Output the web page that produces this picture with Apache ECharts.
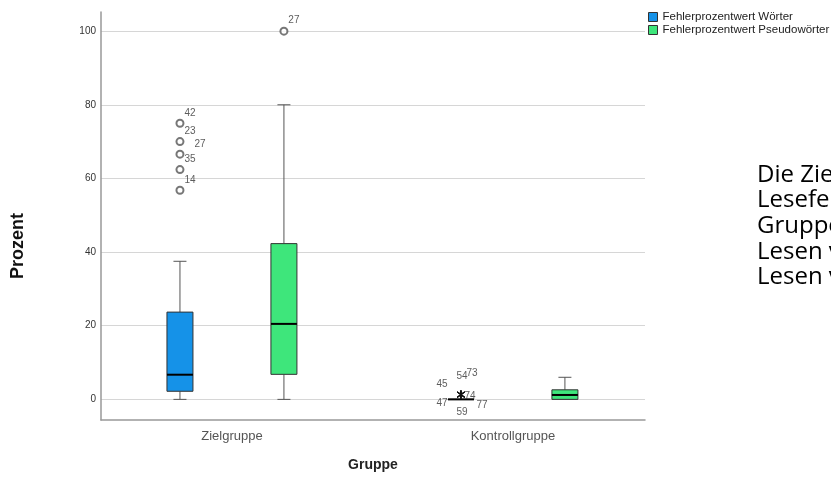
<!DOCTYPE html>
<html><head><meta charset="utf-8">
<script src="https://cdn.jsdelivr.net/npm/echarts@6/dist/echarts.min.js"></script>
<style>html,body{margin:0;padding:0;background:#fff;}#c{width:831px;height:477px;}</style>
</head><body><div id="c"></div>
<script>
// ---- data ----
const groups = ['Zielgruppe', 'Kontrollgruppe'];
const seriesNames = ['Fehlerprozentwert Wörter', 'Fehlerprozentwert Pseudowörter'];
// [min, Q1, median, Q3, max] per group
const woerterBox = [[0, 2.2, 6.7, 23.7, 37.5], [0, 0, 0, 0, 0]];
const pseudoBox = [[0, 6.8, 20.5, 42.3, 80], [0, 0, 1.2, 2.6, 6.0]];
// outliers (circles): [value, case number]
const woerterOutliers = [[[75, 42], [70, 23], [66.6, 27], [62.4, 35], [56.8, 14]], []];
const pseudoOutliers = [[[100, 27]], []];
// extreme values (asterisks): [value, case number]
const woerterExtremes = [[], [[1.3, 45], [1.3, 54], [1.3, 73], [1.3, 47], [1.3, 59], [1.3, 77], [1.3, 74]]];
const pseudoExtremes = [[], []];
const yTicks = [0, 20, 40, 60, 80, 100];
const sideText = ['Die Zielgruppe', 'Lesefehler', 'Gruppe', 'Lesen von', 'Lesen von'];

// ---- layout / style ----
const groupPos = [1, 2];
const seriesOffset = [-0.185, 0.185];
const colors = ['#1592e8', '#3ee67b'];
const labelOffsets = {
  '0-0-27': [20, -10],
  '0-1-45': [-19, -10], '0-1-54': [1, -18], '0-1-73': [11, -21],
  '0-1-47': [-19, 9], '0-1-59': [1, 18], '0-1-77': [21, 11], '0-1-74': [9, 2]
};

function boxData(si, boxes) {
  return boxes.map((b, gi) => [groupPos[gi] + seriesOffset[si]].concat(b));
}
function pointData(si, list, defOff) {
  const out = [];
  list.forEach((arr, gi) => arr.forEach(([v, id]) => {
    const off = labelOffsets[si + '-' + gi + '-' + id] || defOff;
    out.push({ value: [groupPos[gi] + seriesOffset[si], v, id], label: { offset: off } });
  }));
  return out;
}

function renderBox(color) {
  return function (params, api) {
    const x = api.value(0);
    const p = [1, 2, 3, 4, 5].map(i => api.coord([x, api.value(i)]));
    const cx = p[0][0];
    const yMin = p[0][1], yQ1 = p[1][1], yMed = p[2][1], yQ3 = p[3][1], yMax = p[4][1];
    const hw = 13, cw = 6.5;
    const ws = { stroke: '#555', lineWidth: 1 };
    const ch = [];
    if (yQ3 - yMax > 0.5) {
      ch.push({ type: 'line', shape: { x1: cx, y1: yQ3, x2: cx, y2: yMax }, style: ws });
      ch.push({ type: 'line', shape: { x1: cx - cw, y1: yMax, x2: cx + cw, y2: yMax }, style: ws });
    }
    if (yMin - yQ1 > 0.5) {
      ch.push({ type: 'line', shape: { x1: cx, y1: yQ1, x2: cx, y2: yMin }, style: ws });
      ch.push({ type: 'line', shape: { x1: cx - cw, y1: yMin, x2: cx + cw, y2: yMin }, style: ws });
    }
    ch.push({ type: 'rect', shape: { x: cx - hw, y: yQ3, width: 2 * hw, height: yQ1 - yQ3 },
      style: { fill: color, stroke: '#333', lineWidth: 1 } });
    ch.push({ type: 'line', shape: { x1: cx - hw, y1: yMed, x2: cx + hw, y2: yMed },
      style: { stroke: '#000', lineWidth: 2 } });
    return { type: 'group', children: ch };
  };
}

const asterisk = 'path://M4.4,0H5.6V10H4.4Z M0.3,2.1L0.9,1.1L9.7,7.9L9.1,8.9Z M0.3,7.9L9.1,1.1L9.7,2.1L0.9,8.9Z';
const ptLabel = { show: true, position: 'inside', formatter: p => p.data.value[2], fontSize: 10, color: '#333',
  fontFamily: 'Liberation Sans, Arial, sans-serif' };

const chart = echarts.init(document.getElementById('c'), null, { renderer: 'canvas' });
chart.setOption({
  animation: false,
  textStyle: { fontFamily: 'Liberation Sans, Arial, sans-serif' },
  grid: { left: 101, right: 186, top: 12, bottom: 54, containLabel: false },
  legend: {
    orient: 'vertical', left: 648, top: 11, itemWidth: 9, itemHeight: 9, itemGap: 1, icon: 'rect', padding: 0,
    itemStyle: { borderColor: '#333', borderWidth: 1 },
    textStyle: { fontSize: 11.5, color: '#222', lineHeight: 10 },
    data: seriesNames.map((n, i) => ({ name: n, itemStyle: { color: colors[i], borderColor: '#333', borderWidth: 1 } }))
  },
  xAxis: {
    type: 'value', min: 0.534, max: 2.47,
    axisLine: { show: true, onZero: false, lineStyle: { color: '#999', width: 1.5 } },
    axisTick: { show: false, customValues: groupPos },
    axisLabel: { customValues: groupPos, formatter: v => groups[Math.round(v) - 1] || '', fontSize: 13, color: '#555', margin: 10 },
    splitLine: { show: false },
    name: 'Gruppe', nameLocation: 'middle', nameGap: 38,
    nameTextStyle: { fontSize: 14, fontWeight: 'bold', color: '#222' }
  },
  yAxis: {
    type: 'value', min: -5.6, max: 105.2,
    axisLine: { show: true, onZero: false, lineStyle: { color: '#999', width: 1.5 } },
    axisTick: { show: false, customValues: yTicks },
    axisLabel: { customValues: yTicks, fontSize: 10, color: '#333', margin: 5 },
    splitLine: { show: true, lineStyle: { color: '#d6d6d6', width: 1 } }
  },
  graphic: [
    { type: 'text', x: 18, y: 246, rotation: Math.PI / 2,
      style: { text: 'Prozent', font: 'bold 18px Liberation Sans, Arial, sans-serif', fill: '#111', align: 'center', verticalAlign: 'middle' } }
  ].concat(sideText.map((t, i) => ({
    type: 'text', x: 757, y: 175 + i * 25.6,
    style: { text: t, font: '24px "Open Sans", sans-serif', fill: '#000', align: 'left', verticalAlign: 'middle' }
  }))),
  series: [
    { name: seriesNames[0], type: 'custom', itemStyle: { color: colors[0] }, renderItem: renderBox(colors[0]),
      encode: { x: 0, y: [1, 2, 3, 4, 5] }, data: boxData(0, woerterBox), z: 2 },
    { name: seriesNames[1], type: 'custom', itemStyle: { color: colors[1] }, renderItem: renderBox(colors[1]),
      encode: { x: 0, y: [1, 2, 3, 4, 5] }, data: boxData(1, pseudoBox), z: 2 },
    { name: 'Ausreißer', type: 'scatter', symbol: 'emptyCircle', symbolSize: 7,
      itemStyle: { color: '#555', borderWidth: 1 }, label: ptLabel,
      data: pointData(0, woerterOutliers, [10, -10]).concat(pointData(1, pseudoOutliers, [10, -11])), z: 3 },
    { name: 'Extremwerte', type: 'scatter', symbol: asterisk, symbolSize: 8,
      itemStyle: { color: '#111' }, label: ptLabel,
      data: pointData(0, woerterExtremes, [10, -10]).concat(pointData(1, pseudoExtremes, [10, -10])), z: 3 }
  ]
});
</script></body></html>
